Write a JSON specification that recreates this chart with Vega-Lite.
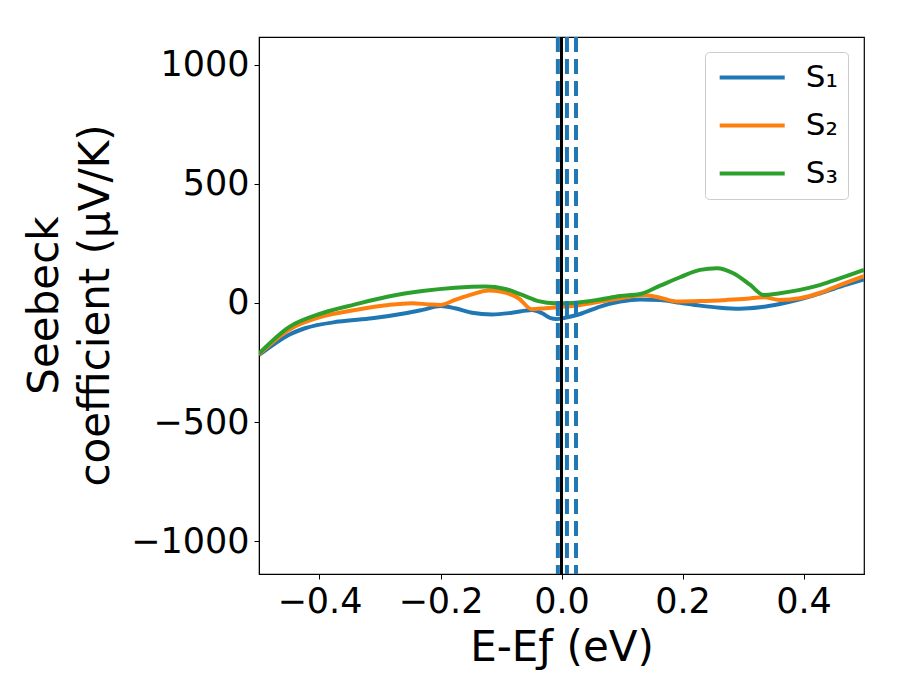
{
  "$schema": "https://vega.github.io/schema/vega-lite/v6.json",
  "width": 605,
  "height": 537,
  "autosize": {"type": "none"},
  "padding": {"left": 259, "top": 37, "right": 36, "bottom": 126},
  "background": "white",
  "config": {
    "font": "DejaVu Sans",
    "view": {"stroke": "black", "strokeWidth": 1.2},
    "axis": {
      "grid": false,
      "domainColor": "black",
      "tickColor": "black",
      "tickSize": 5,
      "labelPadding": 5,
      "labelFontSize": 35,
      "labelColor": "black",
      "titleFontSize": 42,
      "titleFontWeight": "normal",
      "titleColor": "black"
    }
  },
  "datasets": {
    "curves": [
      {"E": -0.5, "S": -218, "series": "S₁"},
      {"E": -0.473, "S": -169, "series": "S₁"},
      {"E": -0.451, "S": -134, "series": "S₁"},
      {"E": -0.424, "S": -106, "series": "S₁"},
      {"E": -0.368, "S": -78, "series": "S₁"},
      {"E": -0.313, "S": -64, "series": "S₁"},
      {"E": -0.258, "S": -43, "series": "S₁"},
      {"E": -0.23, "S": -29, "series": "S₁"},
      {"E": -0.2, "S": -13, "series": "S₁"},
      {"E": -0.176, "S": -22, "series": "S₁"},
      {"E": -0.148, "S": -41, "series": "S₁"},
      {"E": -0.115, "S": -48, "series": "S₁"},
      {"E": -0.082, "S": -41, "series": "S₁"},
      {"E": -0.049, "S": -29, "series": "S₁"},
      {"E": -0.032, "S": -43, "series": "S₁"},
      {"E": -0.019, "S": -62, "series": "S₁"},
      {"E": -0.008, "S": -67, "series": "S₁"},
      {"E": 0.006, "S": -62, "series": "S₁"},
      {"E": 0.031, "S": -46, "series": "S₁"},
      {"E": 0.064, "S": -15, "series": "S₁"},
      {"E": 0.097, "S": 6, "series": "S₁"},
      {"E": 0.13, "S": 15, "series": "S₁"},
      {"E": 0.163, "S": 13, "series": "S₁"},
      {"E": 0.196, "S": 1, "series": "S₁"},
      {"E": 0.229, "S": -11, "series": "S₁"},
      {"E": 0.262, "S": -20, "series": "S₁"},
      {"E": 0.295, "S": -24, "series": "S₁"},
      {"E": 0.328, "S": -18, "series": "S₁"},
      {"E": 0.361, "S": -4, "series": "S₁"},
      {"E": 0.394, "S": 15, "series": "S₁"},
      {"E": 0.428, "S": 41, "series": "S₁"},
      {"E": 0.461, "S": 69, "series": "S₁"},
      {"E": 0.5, "S": 99, "series": "S₁"},

      {"E": -0.5, "S": -215, "series": "S₂"},
      {"E": -0.451, "S": -113, "series": "S₂"},
      {"E": -0.396, "S": -57, "series": "S₂"},
      {"E": -0.341, "S": -29, "series": "S₂"},
      {"E": -0.286, "S": -8, "series": "S₂"},
      {"E": -0.247, "S": -1, "series": "S₂"},
      {"E": -0.22, "S": -6, "series": "S₂"},
      {"E": -0.2, "S": -8, "series": "S₂"},
      {"E": -0.176, "S": 13, "series": "S₂"},
      {"E": -0.148, "S": 36, "series": "S₂"},
      {"E": -0.121, "S": 52, "series": "S₂"},
      {"E": -0.099, "S": 47, "series": "S₂"},
      {"E": -0.071, "S": 20, "series": "S₂"},
      {"E": -0.049, "S": -26, "series": "S₂"},
      {"E": -0.027, "S": -22, "series": "S₂"},
      {"E": 0.006, "S": -15, "series": "S₂"},
      {"E": 0.031, "S": -8, "series": "S₂"},
      {"E": 0.064, "S": 6, "series": "S₂"},
      {"E": 0.097, "S": 20, "series": "S₂"},
      {"E": 0.136, "S": 34, "series": "S₂"},
      {"E": 0.163, "S": 22, "series": "S₂"},
      {"E": 0.191, "S": 6, "series": "S₂"},
      {"E": 0.229, "S": 8, "series": "S₂"},
      {"E": 0.273, "S": 13, "series": "S₂"},
      {"E": 0.306, "S": 18, "series": "S₂"},
      {"E": 0.334, "S": 24, "series": "S₂"},
      {"E": 0.361, "S": 13, "series": "S₂"},
      {"E": 0.394, "S": 20, "series": "S₂"},
      {"E": 0.428, "S": 43, "series": "S₂"},
      {"E": 0.461, "S": 76, "series": "S₂"},
      {"E": 0.5, "S": 113, "series": "S₂"},

      {"E": -0.5, "S": -212, "series": "S₃"},
      {"E": -0.451, "S": -102, "series": "S₃"},
      {"E": -0.396, "S": -43, "series": "S₃"},
      {"E": -0.341, "S": -6, "series": "S₃"},
      {"E": -0.286, "S": 27, "series": "S₃"},
      {"E": -0.23, "S": 50, "series": "S₃"},
      {"E": -0.176, "S": 64, "series": "S₃"},
      {"E": -0.126, "S": 69, "series": "S₃"},
      {"E": -0.093, "S": 59, "series": "S₃"},
      {"E": -0.065, "S": 34, "series": "S₃"},
      {"E": -0.038, "S": 8, "series": "S₃"},
      {"E": -0.01, "S": -1, "series": "S₃"},
      {"E": 0.006, "S": -1, "series": "S₃"},
      {"E": 0.031, "S": 3, "series": "S₃"},
      {"E": 0.064, "S": 15, "series": "S₃"},
      {"E": 0.097, "S": 29, "series": "S₃"},
      {"E": 0.13, "S": 38, "series": "S₃"},
      {"E": 0.163, "S": 73, "series": "S₃"},
      {"E": 0.196, "S": 108, "series": "S₃"},
      {"E": 0.229, "S": 139, "series": "S₃"},
      {"E": 0.257, "S": 146, "series": "S₃"},
      {"E": 0.284, "S": 125, "series": "S₃"},
      {"E": 0.312, "S": 76, "series": "S₃"},
      {"E": 0.334, "S": 34, "series": "S₃"},
      {"E": 0.361, "S": 41, "series": "S₃"},
      {"E": 0.394, "S": 55, "series": "S₃"},
      {"E": 0.428, "S": 76, "series": "S₃"},
      {"E": 0.461, "S": 104, "series": "S₃"},
      {"E": 0.5, "S": 139, "series": "S₃"}
    ],
    "dashed": [{"E": -0.006}, {"E": 0.009}, {"E": 0.024}],
    "fermi": [{"E": 0}]
  },
  "layer": [
    {
      "data": {"name": "curves"},
      "mark": {"type": "line", "strokeWidth": 4, "interpolate": "monotone", "clip": true},
      "encoding": {
        "x": {
          "field": "E",
          "type": "quantitative",
          "scale": {"domain": [-0.5, 0.5], "nice": false, "zero": false},
          "axis": {"values": [-0.4, -0.2, 0, 0.2, 0.4], "format": ".1f", "title": "E-Eƒ (eV)", "titleY": 86, "titleBaseline": "alphabetic"}
        },
        "y": {
          "field": "S",
          "type": "quantitative",
          "scale": {"domain": [-1137, 1116], "nice": false, "zero": false},
          "axis": {
            "values": [-1000, -500, 0, 500, 1000],
            "format": "d",
            "title": ["Seebeck", "coefficient  (μV/K)"],
            "titleLineHeight": 51,
            "titleX": -193,
            "titleY": 268,
            "titleAngle": -90,
            "titleBaseline": "bottom",
            "titleAlign": "center"
          }
        },
        "color": {
          "field": "series",
          "type": "nominal",
          "scale": {"domain": ["S₁", "S₂", "S₃"], "range": ["#1f77b4", "#ff7f0e", "#2ca02c"]},
          "legend": {
            "title": null,
            "orient": "none",
            "legendX": 446,
            "legendY": 15,
            "strokeColor": "#cccccc",
            "fillColor": "white",
            "cornerRadius": 4,
            "padding": 10,
            "symbolType": "M-3,0L3,0",
            "symbolStrokeWidth": 4,
            "symbolSize": 470,
            "symbolOffset": 21.7,
            "labelFontSize": 31,
            "labelFont": "DejaVu Sans",
            "labelColor": "black",
            "labelOffset": 38,
            "rowPadding": 16
          }
        }
      }
    },
    {
      "data": {"name": "dashed"},
      "mark": {"type": "rule", "color": "#1f77b4", "strokeWidth": 4, "strokeDash": [15, 7]},
      "encoding": {"x": {"field": "E", "type": "quantitative"}}
    },
    {
      "data": {"name": "fermi"},
      "mark": {"type": "rule", "color": "black", "strokeWidth": 3},
      "encoding": {"x": {"field": "E", "type": "quantitative"}}
    }
  ]
}
